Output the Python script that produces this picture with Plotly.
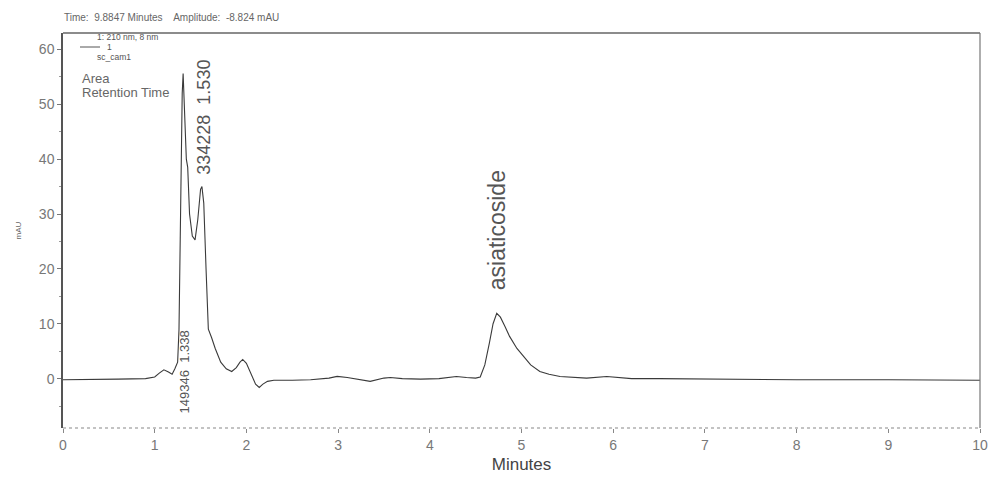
import plotly.graph_objects as go

# Chromatogram (time in minutes, signal in mAU)
times = [0.0, 0.3, 0.6, 0.9, 1.0, 1.05, 1.1, 1.15, 1.19, 1.22, 1.25, 1.265, 1.28, 1.30, 1.31,
         1.325, 1.345, 1.36, 1.38, 1.41, 1.44, 1.47, 1.50, 1.515, 1.535, 1.56, 1.585, 1.62,
         1.66, 1.72, 1.78, 1.84, 1.89, 1.93, 1.96, 2.0, 2.05, 2.10, 2.14, 2.18, 2.23, 2.3,
         2.5, 2.7, 2.9, 2.99, 3.1, 3.2, 3.35, 3.5, 3.57, 3.7, 3.9, 4.1, 4.29, 4.4, 4.5, 4.55,
         4.6, 4.65, 4.69, 4.73, 4.77, 4.82, 4.87, 4.95, 5.02, 5.1, 5.2, 5.3, 5.42, 5.6, 5.71,
         5.93, 6.2, 6.5, 7.0, 8.0, 9.0, 10.0]
signal = [-0.2, -0.2, -0.1, 0.0, 0.3, 1.0, 1.6, 1.2, 0.8, 1.8, 3.0, 9.0, 30.0, 52.0, 55.6,
          50.0, 40.0, 38.5, 30.0, 26.0, 25.3, 29.0, 34.5, 35.0, 32.0, 20.0, 9.0, 7.5,
          5.5, 3.0, 1.8, 1.3, 2.0, 3.0, 3.5, 2.8, 0.8, -1.0, -1.6, -1.0, -0.5, -0.3,
          -0.3, -0.2, 0.1, 0.4, 0.2, -0.1, -0.5, 0.1, 0.2, 0.0, -0.1, 0.0, 0.4, 0.2, 0.1, 0.3,
          2.5, 6.5, 10.0, 11.9, 11.2, 9.5, 7.7, 5.5, 4.0, 2.5, 1.3, 0.8, 0.4, 0.2, 0.1,
          0.4, 0.0, 0.0, -0.1, -0.2, -0.2, -0.3]

# Peak annotations: (time, y center, text, font size)
peak_times = [1.33, 1.54, 4.73]
peak_label_y = [1.3, 47.6, 27.0]
peak_texts = ["149346  1.338", "334228  1.530", "asiaticoside"]
peak_sizes = [13, 18, 23]

x_ticks = [0, 1, 2, 3, 4, 5, 6, 7, 8, 9, 10]
y_ticks = [0, 10, 20, 30, 40, 50, 60]

# the page body has an 8px margin, so the figure is sized to fit the window
W, H = 988, 472
L, R, T, B = 55, 16, 25, 52
PW, PH = W - L - R, H - T - B

fig = go.Figure()
fig.add_trace(go.Scatter(x=times, y=signal, mode="lines",
                         line=dict(color="#3a3a3a", width=1.1), showlegend=False))

for t, yv, txt, fs in zip(peak_times, peak_label_y, peak_texts, peak_sizes):
    fig.add_annotation(x=t, y=yv, text=txt, textangle=-90, showarrow=False,
                       xanchor="center", yanchor="middle",
                       font=dict(family="Liberation Sans, Arial", size=fs, color="#555555"))

fig.update_layout(
    width=W, height=H,
    margin=dict(l=L, r=R, t=T, b=B),
    paper_bgcolor="white", plot_bgcolor="white",
    font=dict(family="Liberation Sans, Arial", color="#666666"),
    xaxis=dict(range=[0, 10], tickvals=x_ticks, ticktext=[str(v) for v in x_ticks],
               showgrid=False, zeroline=False, showline=False, automargin=False,
               ticks="outside", ticklen=4, tickcolor="#888888",
               tickfont=dict(size=14, color="#777777"),
               title=dict(text="Minutes", font=dict(size=17, color="#444444"), standoff=6)),
    yaxis=dict(range=[-9, 63], tickvals=y_ticks, showgrid=False, zeroline=False,
               showline=True, linecolor="#555555", linewidth=1.5, automargin=False,
               ticks="outside", ticklen=4, tickcolor="#777777",
               minor=dict(ticks="outside", ticklen=2, dtick=5, tickcolor="#999999"),
               tickfont=dict(size=14, color="#777777"),
               title=dict(text="mAU", font=dict(size=8, color="#666666"), standoff=16)),
)

# frame: top and right solid, bottom dotted
fig.add_shape(type="line", xref="paper", yref="paper", x0=0, x1=1, y0=1, y1=1,
              line=dict(color="#666666", width=1.5))
fig.add_shape(type="line", xref="paper", yref="paper", x0=1, x1=1, y0=0, y1=1,
              line=dict(color="#777777", width=1.2))
fig.add_shape(type="line", xref="paper", yref="paper", x0=0, x1=1, y0=0, y1=0,
              line=dict(color="#888888", width=1.2, dash="dot"))

# header and legend-style texts
fig.add_annotation(xref="paper", yref="paper", x=0, y=1, xshift=-1, yshift=16,
                   xanchor="left", yanchor="middle", showarrow=False,
                   text="Time:  9.8847 Minutes    Amplitude:  -8.824 mAU",
                   font=dict(size=10, color="#666666"))
fig.add_annotation(xref="paper", yref="paper", x=0, y=1, xshift=32, yshift=-4,
                   xanchor="left", yanchor="middle", showarrow=False,
                   text="1: 210 nm, 8 nm", font=dict(size=8.5, color="#555555"))
fig.add_shape(type="line", xref="paper", yref="paper", x0=17 / PW, x1=37 / PW,
              y0=1 - 14 / PH, y1=1 - 14 / PH, line=dict(color="#555555", width=1))
fig.add_annotation(xref="paper", yref="paper", x=0, y=1, xshift=42, yshift=-14,
                   xanchor="left", yanchor="middle", showarrow=False,
                   text="1", font=dict(size=8.5, color="#555555"))
fig.add_annotation(xref="paper", yref="paper", x=0, y=1, xshift=32, yshift=-24,
                   xanchor="left", yanchor="middle", showarrow=False,
                   text="sc_cam1", font=dict(size=8.5, color="#555555"))
fig.add_annotation(xref="paper", yref="paper", x=0, y=1, xshift=17, yshift=-45,
                   xanchor="left", yanchor="middle", showarrow=False,
                   text="Area", font=dict(size=13, color="#666666"))
fig.add_annotation(xref="paper", yref="paper", x=0, y=1, xshift=17, yshift=-59,
                   xanchor="left", yanchor="middle", showarrow=False,
                   text="Retention Time", font=dict(size=13, color="#666666"))

fig.write_html("out.html")
